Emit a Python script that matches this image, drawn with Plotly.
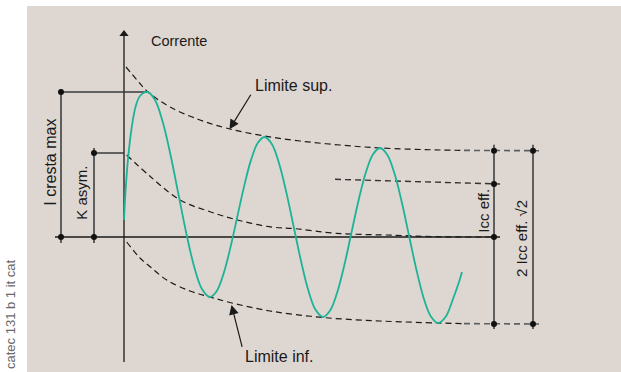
import plotly.graph_objects as go

# ---------------- data (t: time units, i: current units; origin at axes cross) ----------------
wave_t = [0, 1.5, 4, 7.5, 11.5, 16, 23.5,
          30.9, 38.75, 46.6, 54.5, 62.4, 70.25, 78.1, 86,
          92.8, 99.6, 106.4, 113.25, 120.1, 126.9, 133.7, 140.5,
          147.8, 155.1, 162.4, 169.75, 177.1, 184.4, 191.7, 199,
          206.1, 213.25, 220.4, 227.5, 234.6, 241.75, 248.9, 256,
          263.25, 270.5, 277.75, 285, 292.25, 299.5, 306.75, 314,
          321.5, 329, 335, 338]
wave_i = [17, 45, 78, 108, 130, 141, 145,
          137.2, 115, 81.7, 42.5, 3.3, -30, -52.2, -60,
          -53.9, -36.6, -10.6, 20, 50.6, 76.6, 93.9, 100,
          93.1, 73.6, 44.4, 10, -24.4, -53.6, -73.1, -80,
          -73.6, -55.3, -27.8, 4.5, 36.8, 64.3, 82.6, 89,
          82.3, 63.4, 35, 1.5, -32, -60.4, -79.3, -86,
          -80, -62, -45, -35]

upper_t = [2, 13, 24, 46, 76, 106, 140.5, 176, 216, 256, 316, 340]
upper_i = [170, 157, 145, 130, 117, 108, 101, 96, 92, 89, 87, 86.6]
upper_ext_t = [340, 415]
upper_ext_i = [86.6, 86.3]

dc_t = [2.7, 26.5, 56, 86, 113.6, 145, 171, 212.6, 272, 311.6, 367]
dc_i = [82, 60.3, 37, 25.3, 17, 10.3, 8.3, 3.7, 1.7, 0.3, 0]

lower_t = [2.7, 16, 26.5, 42.7, 66, 86, 106, 146, 199, 256, 314, 340]
lower_i = [-5, -21, -30, -43, -54, -60, -65.5, -74, -80.5, -84, -86, -86.6]
lower_ext_t = [340, 415]
lower_ext_i = [-86.6, -87]

icc_eff_t = [211, 376]
icc_eff_i = [57.7, 53]

I_CRESTA = 145
K_ASYM = 84
ICC_TOP = 86.3
ICC_EFF = 53
ICC_BOT = -87

# ---------------- layout constants ----------------
X_CRESTA, X_KASYM, X_ICC, X_2ICC = -63, -30, 370, 409
BLACK = "#1a1a1a"
GREY = "#5e5e5e"
GREEN = "#1cb396"
FONT = "Liberation Sans, Arial, sans-serif"
DASH = "6px,4px"

fig = go.Figure()

def line(x, y, color=BLACK, width=1.3, dash=None, shape="linear"):
    fig.add_trace(go.Scatter(x=x, y=y, mode="lines", hoverinfo="skip",
                             line=dict(color=color, width=width, dash=dash, shape=shape)))

# axes
line([-69, 376], [0, 0], BLACK, 1.5)
line([0, 0], [-125, 201], BLACK, 1.3)
fig.add_trace(go.Scatter(x=[0], y=[203], mode="markers", hoverinfo="skip",
                         marker=dict(symbol="triangle-up", size=8, color=BLACK)))

# envelopes
line(upper_t, upper_i, BLACK, 1.2, DASH, "spline")
line(upper_ext_t, upper_ext_i, GREY, 1.6, DASH)
line(dc_t, dc_i, BLACK, 1.2, DASH, "spline")
line(lower_t, lower_i, BLACK, 1.2, DASH, "spline")
line(lower_ext_t, lower_ext_i, GREY, 1.6, DASH)
line(icc_eff_t, icc_eff_i, "#333333", 1.4, DASH)

# dimension lines
line([X_CRESTA, X_CRESTA], [I_CRESTA + 3, -6], GREY, 2)
line([X_CRESTA, wave_t[6]], [I_CRESTA, I_CRESTA], "#3a3a3a", 1.5)
line([X_KASYM, X_KASYM], [K_ASYM + 5, -6], GREY, 2)
line([X_KASYM, 0], [K_ASYM, K_ASYM], "#3a3a3a", 1.5)
line([X_ICC, X_ICC], [ICC_TOP + 6, ICC_BOT - 5], GREY, 2)
line([X_2ICC, X_2ICC], [ICC_TOP + 6, ICC_BOT - 5], GREY, 2)

# wave
line(wave_t, wave_i, GREEN, 1.8, None, "spline")

# dots
fig.add_trace(go.Scatter(
    x=[X_CRESTA, X_CRESTA, X_KASYM, X_KASYM, X_ICC, X_ICC, X_ICC, X_ICC, X_2ICC, X_2ICC],
    y=[I_CRESTA, 0, K_ASYM, 0, ICC_TOP, ICC_EFF, 0, ICC_BOT, ICC_TOP, ICC_BOT],
    mode="markers", hoverinfo="skip", marker=dict(size=6, color="#111111")))

ann = []
def text(x, y, s, size, angle=0, xanchor="center", color=BLACK):
    ann.append(dict(x=x, y=y, text=s, showarrow=False, textangle=angle, xanchor=xanchor,
                    yanchor="middle", font=dict(family=FONT, size=size, color=color)))

text(25, 196, "Corrente", 14.5, xanchor="left")
text(129, 152, "Limite sup.", 16, xanchor="left")
text(119, -119, "Limite inf.", 16, xanchor="left")
text(-73, 74.3, "I cresta max", 16, -90)
text(-42, 44.3, "K asym.", 15, -90)
text(358.7, 26, "Icc eff.", 15, -90)
text(397.7, -1.3, "2 Icc eff. √2", 15, -90)
text(-114, -77, "catec 131 b 1 it cat", 13, -90, color="#6a6a6a")

for (hx, hy, tx, ty) in [(105.5, 107.7, 127.7, 143.7), (107.5, -68, 118.5, -111.3)]:
    ann.append(dict(x=hx, y=hy, ax=tx, ay=ty, axref="x", ayref="y", xref="x", yref="y",
                    text="", showarrow=True, arrowhead=2, arrowsize=1.6, arrowwidth=1.2,
                    arrowcolor=BLACK))

fig.update_layout(
    width=621, height=372, margin=dict(l=0, r=0, t=0, b=0),
    paper_bgcolor="white", plot_bgcolor="rgba(0,0,0,0)", showlegend=False,
    xaxis=dict(range=[-124, 497], visible=False, fixedrange=True),
    yaxis=dict(range=[-135, 237], visible=False, fixedrange=True),
    annotations=ann,
    shapes=[dict(type="rect", xref="paper", yref="paper", x0=27 / 621, x1=1, y0=0,
                 y1=(372 - 6) / 372, fillcolor="#ded6d0", line=dict(width=0), layer="below")],
)

fig.write_html("out.html", config={"displayModeBar": False},
               post_script="document.body.style.margin='0px';document.body.style.overflow='hidden';")
